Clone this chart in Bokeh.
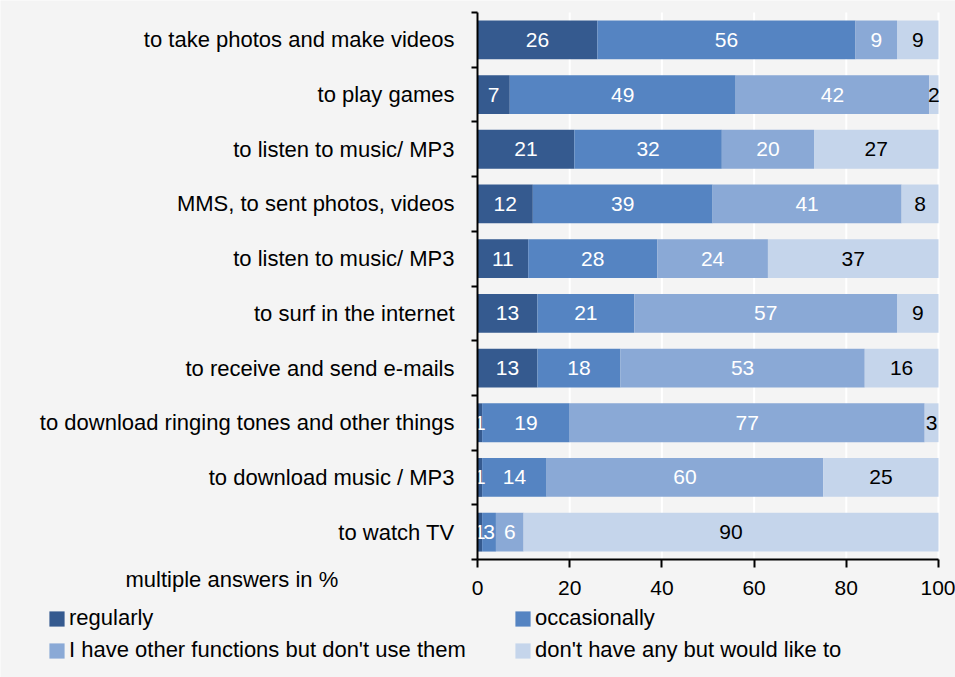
import pandas as pd
from bokeh.plotting import figure
from bokeh.models import (ColumnDataSource, Range1d, FixedTicker, Legend, LegendItem,
                          Label)
from bokeh.core.properties import value
from bokeh.embed import file_html
from bokeh.resources import INLINE

# ---- data (top to bottom) ----
categories = [
    "to take photos and make videos",
    "to play games",
    "to listen to music/ MP3",
    "MMS, to sent photos, videos",
    "to listen to music/ MP3",
    "to surf in the internet",
    "to receive and send e-mails",
    "to download ringing tones and other things",
    "to download music / MP3",
    "to watch TV",
]
regularly = [26, 7, 21, 12, 11, 13, 13, 1, 1, 1]
occasionally = [56, 49, 32, 39, 28, 21, 18, 19, 14, 3]
other_functions = [9, 42, 20, 41, 24, 57, 53, 77, 60, 6]
would_like = [9, 2, 27, 8, 37, 9, 16, 3, 25, 90]

series_names = ["regularly", "occasionally",
                "I have other functions but don't use them",
                "don't have any but would like to"]
series_values = [regularly, occasionally, other_functions, would_like]
x_ticks = [0, 20, 40, 60, 80, 100]
note = "multiple answers in %"

# ---- style / layout ----
series_colors = ["#355a8f", "#5584c2", "#8aa9d6", "#c5d5eb"]
label_colors = ["white", "white", "white", "black"]
FONT = "Liberation Sans"
BG = "#f4f4f4"
W, H = 955, 677
PX_X0, PX_X100 = 477, 938        # pixel position of 0 and 100
PX_TOP, PITCH = 12, 54.7         # top of first row, row pitch in px

n = len(categories)
xs = 100.0 / (PX_X100 - PX_X0)
x_start = -PX_X0 * xs
x_end = 100 + (W - PX_X100) * xs
y_top = -0.5 - PX_TOP / PITCH
y_bot = -0.5 + (H - PX_TOP) / PITCH

df = pd.DataFrame({"y": list(range(n))})
for name, vals in zip(series_names, series_values):
    df[name] = vals
source = ColumnDataSource(df)

p = figure(width=W, height=H, output_backend="svg", toolbar_location=None,
           x_range=Range1d(x_start, x_end), y_range=Range1d(y_bot, y_top),
           min_border=0, min_border_left=0, min_border_right=0,
           min_border_top=0, min_border_bottom=0)
p.background_fill_color = BG
p.border_fill_color = BG
p.outline_line_color = None
p.xgrid.visible = False
p.ygrid.visible = False

# vertical gridlines at the x ticks, within the plot area
p.segment(x0=x_ticks, x1=x_ticks, y0=[-0.5] * len(x_ticks), y1=[n - 0.5] * len(x_ticks),
          line_color="white", line_width=2)

renderers = p.hbar_stack(series_names, y="y", height=0.71, source=source,
                         color=series_colors, line_color=None)

# segment labels
rows = []
for i in range(n):
    left = 0
    for s, name in enumerate(series_names):
        v = int(df[name][i])
        rows.append(dict(x=left + v / 2, y=i, t=str(v), c=label_colors[s]))
        left += v
lab = ColumnDataSource(pd.DataFrame(rows))
p.text(x="x", y="y", text="t", source=lab, text_color="c", text_align="center",
       text_baseline="middle", text_font=value(FONT), text_font_size="21px")

# x axis
xa = p.xaxis[0]
xa.fixed_location = n - 0.5
xa.bounds = (0, 100)
xa.ticker = FixedTicker(ticks=x_ticks)
xa.axis_line_color = "black"
xa.axis_line_width = 2
xa.major_tick_line_color = "black"
xa.major_tick_line_width = 2
xa.major_tick_in = 0
xa.major_tick_out = 8
xa.minor_tick_line_color = None
xa.major_label_standoff = 13
xa.major_label_text_font = FONT
xa.major_label_text_font_size = "21px"
xa.major_label_text_color = "black"

# y axis
ya = p.yaxis[0]
ya.fixed_location = 0
ya.bounds = (-0.5, n - 0.5)
ya.ticker = FixedTicker(ticks=list(range(n)),
                        minor_ticks=[i - 0.5 for i in range(n + 1)])
ya.major_label_overrides = {i: c for i, c in enumerate(categories)}
ya.axis_line_color = "black"
ya.axis_line_width = 2
ya.major_tick_line_color = None
ya.major_tick_out = 0
ya.major_tick_in = 0
ya.minor_tick_line_color = "black"
ya.minor_tick_line_width = 2
ya.minor_tick_out = 6
ya.minor_tick_in = 0
ya.major_label_standoff = 17
ya.major_label_text_font = FONT
ya.major_label_text_font_size = "22px"
ya.major_label_text_color = "black"

# note
p.add_layout(Label(x=125, y=H - 579, x_units="screen", y_units="screen", text=note,
                   text_font=FONT, text_font_size="22px", text_color="black",
                   text_baseline="middle"))

# legend
legend = Legend(items=[LegendItem(label=nm, renderers=[r])
                       for nm, r in zip(series_names, renderers)],
                location=(47, 14), orientation="horizontal", ncols=2,
                padding=0, margin=0, spacing=6, border_line_color=None,
                background_fill_alpha=0, glyph_width=19, glyph_height=19,
                label_standoff=3, label_width=438, label_height=25,
                label_text_font=FONT, label_text_font_size="22px",
                label_text_color="black")
p.add_layout(legend, "center")

open("out.html", "w").write(file_html(p, INLINE))
